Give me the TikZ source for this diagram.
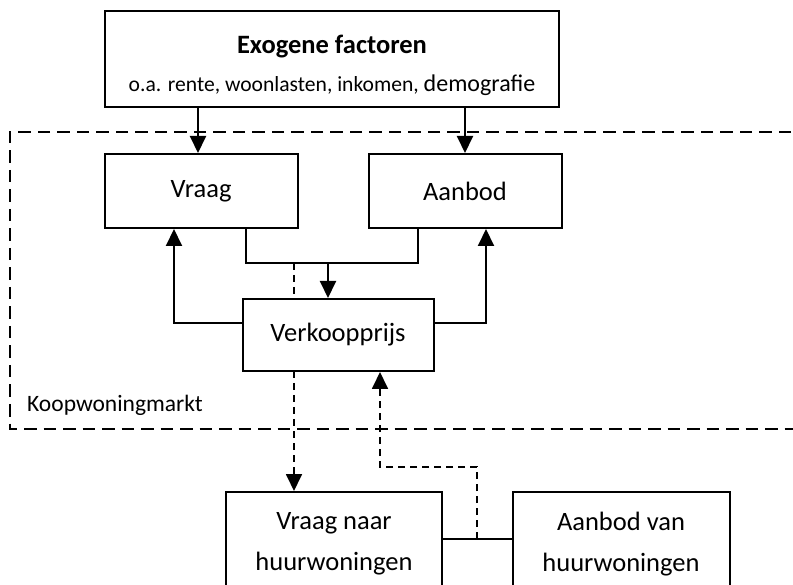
\documentclass[tikz,border=0pt]{standalone}
\usepackage{fontspec}
\setmainfont{Carlito}
\usetikzlibrary{arrows.meta,backgrounds,calc}
\begin{document}
\begin{tikzpicture}[x=1pt,y=-1pt,
  box/.style={draw,line width=2pt,fill=white,inner sep=0pt,font=\fontsize{26.5}{41}\selectfont,align=center},
  conn/.style={line width=2pt},
  arr/.style={conn,-{Triangle[length=17pt,width=16pt]}},
  dconn/.style={line width=1.8pt,dash pattern=on 7pt off 5pt},
  darr/.style={dconn,-{Triangle[length=17pt,width=16pt]}},
  border/.style={line width=2pt,dash pattern=on 12.5pt off 7pt}]
\useasboundingbox (0,0) rectangle (793,585);
\clip (0,0) rectangle (793,585);
% boxes
\node[box,minimum width=454pt,minimum height=96pt] (exo) at (332,59) {};
\node[font=\bfseries\fontsize{26.5}{30}\selectfont,inner sep=0pt] (exot) at (332,47) {Exogene factoren};
\node[font=\fontsize{21.6}{26}\selectfont,inner sep=0pt] (exos) at (332,85) {o.a. rente, woonlasten, inkomen, {\fontsize{24}{26}\selectfont demografie}};
\node[box,minimum width=193pt,minimum height=74pt] (vraag) at (201,191) {Vraag};
\node[box,minimum width=193pt,minimum height=74pt] (aanbod) at (465,191) {Aanbod};
\node[box,minimum width=191pt,minimum height=72pt] (vp) at (338,335) {Verkoopprijs};
\node[box,minimum width=216pt,minimum height=104pt] (vn) at (334,544) {Vraag naar\\huurwoningen};
\node[box,minimum width=217pt,minimum height=104pt] (av) at (621,544) {Aanbod van\\huurwoningen};
\node[font=\fontsize{23.5}{26}\selectfont,anchor=west,inner sep=0pt] (km) at (27,405) {Koopwoningmarkt};
% coordinates
\coordinate (jl) at (246,263);
\coordinate (jr) at (418,263);
\coordinate (j) at (328,263);
\coordinate (sl) at (174,323);
\coordinate (sr) at (486,323);
\coordinate (d1) at (294,263);
\coordinate (u1) at (477,539);
\coordinate (u2) at (380,467);
\coordinate (xa) at (198,0);
% background: dashed elements
\begin{pgfonlayer}{background}
\draw[border] (830,132) -- (10,132) -- (10,429) -- (830,429);
\draw[darr] (d1) -- (d1 |- vn.north);
\draw[darr] (u1) |- (u2) -- (u2 |- vp.south);
\end{pgfonlayer}
% connectors
\draw[arr] (xa |- exo.south) -- (xa |- vraag.north);
\draw[arr] (aanbod.north |- exo.south) -- (aanbod.north);
\draw[conn] (jl |- vraag.south) -- (jl) -- (jr) -- (jr |- aanbod.south);
\draw[arr] (j) -- (j |- vp.north);
\draw[arr] (sl -| vp.west) -- (sl) -- (sl |- vraag.south);
\draw[arr] (sr -| vp.east) -- (sr) -- (sr |- aanbod.south);
\draw[line width=1.5pt] (vn.east |- u1) -- (av.west |- u1);
\end{tikzpicture}
\end{document}
